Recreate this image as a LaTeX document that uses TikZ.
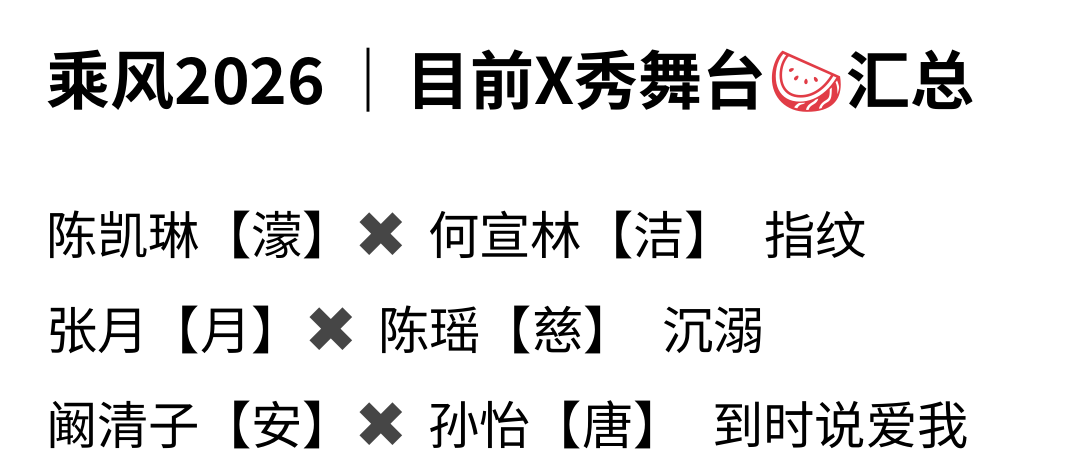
\documentclass[tikz,border=0pt]{standalone}
\usepackage{fontspec}
\setmainfont{Noto Sans CJK SC}
\newfontfamily\cjkbold{Noto Sans CJK SC Bold}
\newfontfamily\emojifont{Noto Emoji}
\newfontfamily\symfont{DejaVu Sans}
\usetikzlibrary{positioning}
\definecolor{crossgray}{RGB}{70,70,70}
\definecolor{melonred}{RGB}{225,60,70}
\begin{document}
\begin{tikzpicture}[x=0.75pt,y=-0.75pt]
\tikzset{every node/.style={inner sep=0pt,anchor=west},
  titletext/.style={font=\cjkbold\fontsize{48}{48}\selectfont},
  linetext/.style={font=\fontsize{38.5}{38.5}\selectfont},
  crossmark/.style={font=\symfont\fontsize{48}{48}\selectfont,text=crossgray}}
\useasboundingbox (0,0) rectangle (1080,462);
% title
\node [titletext] (t1) at (46,80) {乘风2026};
\node [titletext] (bar) at (336,80) {｜};
\node [titletext] (t2) at (406,80) {目前X秀舞台};
\node [font=\emojifont\fontsize{50}{50}\selectfont,text=melonred] (melon) at (764,82) {🍉};
\node [titletext] (t3) at (846,80) {汇总};
% line 1
\node [linetext] (a1) at (46,235) {陈凯琳【濛】};
\node [crossmark] (x1) at (354,235) {✖};
\node [linetext] (b1) at (428,235) {何宣林【洁】};
\node [linetext] (s1) at (764,235) {指纹};
% line 2
\node [linetext] (a2) at (46,330) {张月【月】};
\node [crossmark] (x2) at (304,330) {✖};
\node [linetext] (b2) at (378,330) {陈瑶【慈】};
\node [linetext] (s2) at (662,330) {沉溺};
% line 3
\node [linetext] (a3) at (46,425) {阚清子【安】};
\node [crossmark] (x3) at (354,425) {✖};
\node [linetext] (b3) at (428,425) {孙怡【唐】};
\node [linetext] (s3) at (712,425) {到时说爱我};
\end{tikzpicture}
\end{document}
